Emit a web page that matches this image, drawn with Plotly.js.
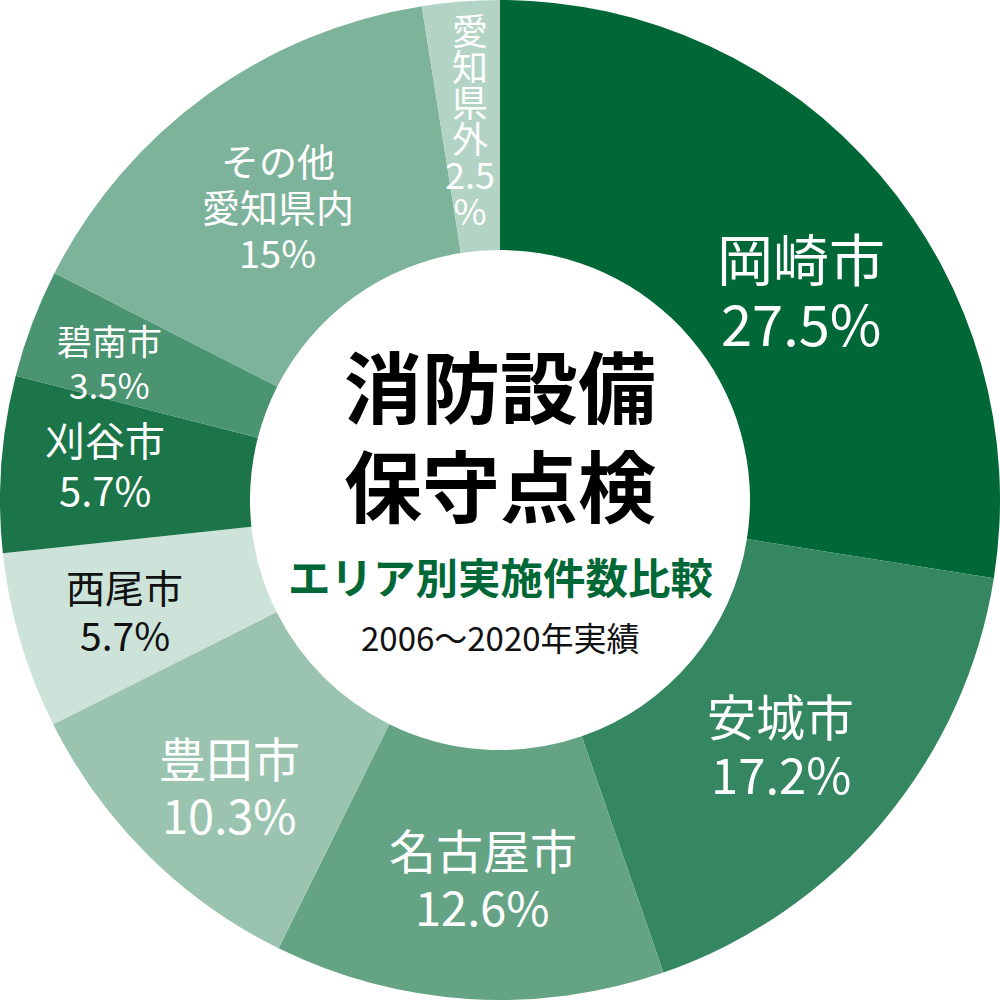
<!DOCTYPE html>
<html>
<head>
<meta charset="utf-8">
<script src="https://cdn.plot.ly/plotly-3.0.1.min.js"></script>
<style>html,body{margin:0;padding:0;background:#fff;}#chart{width:1000px;height:1000px;}</style>
</head>
<body>
<div id="chart"></div>
<script>
// ---- data ----
const categories = ['岡崎市','安城市','名古屋市','豊田市','西尾市','刈谷市','碧南市','その他愛知県内','愛知県外'];
const shares = [27.5, 17.2, 12.6, 10.3, 5.7, 5.7, 3.5, 15, 2.5];
const labelLines = [['岡崎市'],['安城市'],['名古屋市'],['豊田市'],['西尾市'],['刈谷市'],['碧南市'],['その他','愛知県内'],['愛','知','県','外']];
const titleLines = ['消防設備','保守点検'];
const subtitle = 'エリア別実施件数比較';
const period = '2006～2020年実績';

// ---- styles ----
const sliceColors = ['#006837','#348760','#64a384','#9bc4b0','#cde2d8','#1b7549','#4a9471','#7eb39b','#b3d3c4'];
const textColors = ['#fff','#fff','#fff','#fff','#111','#fff','#fff','#fff','#fff'];
const fontSizes = [56, 49, 47, 47, 39, 40, 35, 38, 36];
const linePitch = [65, 58, 57, 57, 48, 50, 44, 46, 36];
const labelRadius = [367, 372, 377, 393, 391, 397, 414, 369, 382];
const angleShift = [5.5, 1, -1, -1.3, 0, 1, -1.2, -1, 0];
const FONT = '"Noto Sans CJK JP", "Noto Sans", sans-serif';

const annotations = [];
const total = shares.reduce((a,b)=>a+b,0);
let cum = 0;
shares.forEach((v, i) => {
  const mid = (cum + v/2) / total * 360 + angleShift[i];
  cum += v;
  const rad = mid * Math.PI / 180;
  const vertical = labelLines[i].length > 3;
  const cx = 500 + labelRadius[i] * Math.sin(rad);
  const cy = 500 - labelRadius[i] * Math.cos(rad);
  if (vertical) {
    // stacked column: one text, tight line spacing via small base font + larger glyph spans
    const lines = labelLines[i].concat([String(v), '%']);
    const txt = lines.map(l => '<span style="font-size:' + fontSizes[i] + 'px">' + l + '</span>').join('<br>');
    annotations.push({
      text: txt, x: cx/1000, y: 1 - cy/1000, xref: 'paper', yref: 'paper',
      xanchor: 'center', yanchor: 'middle', showarrow: false,
      font: {family: FONT, size: linePitch[i] / 1.3, color: textColors[i]}
    });
  } else {
    const lines = labelLines[i].concat([String(v) + '%']);
    const n = lines.length;
    lines.forEach((t, k) => {
      const off = (k - (n-1)/2) * linePitch[i];
      annotations.push({
        text: t, x: cx/1000, y: 1 - (cy + off)/1000, xref: 'paper', yref: 'paper',
        xanchor: 'center', yanchor: 'middle', showarrow: false,
        font: {family: FONT, size: fontSizes[i], color: textColors[i]}
      });
    });
  }
});

// center texts
titleLines.forEach((t, k) => {
  annotations.push({text: '<b>' + t + '</b>', x: 0.5, y: 1 - (384 + k*99)/1000, xref:'paper', yref:'paper',
    xanchor:'center', yanchor:'middle', showarrow:false, font:{family: FONT, size: 78, color:'#000'}});
});
annotations.push({text: '<b>' + subtitle + '</b>', x: 0.5, y: 1 - 575/1000, xref:'paper', yref:'paper',
  xanchor:'center', yanchor:'middle', showarrow:false, font:{family: FONT, size: 42.5, color:'#006837'}});
annotations.push({text: period, x: 0.5, y: 1 - 637/1000, xref:'paper', yref:'paper',
  xanchor:'center', yanchor:'middle', showarrow:false, font:{family: FONT, size: 33, color:'#111'}});

const trace = {
  type: 'pie', labels: categories, values: shares, hole: 0.5, sort: false,
  direction: 'clockwise', rotation: 0, textinfo: 'none', hoverinfo: 'none',
  marker: {colors: sliceColors, line: {width: 0}},
  domain: {x: [0,1], y: [0,1]}, showlegend: false
};

Plotly.newPlot('chart', [trace], {
  width: 1000, height: 1000, margin: {l:0, r:0, t:0, b:0},
  paper_bgcolor: '#fff', showlegend: false, annotations: annotations
}, {staticPlot: true});
</script>
</body>
</html>
